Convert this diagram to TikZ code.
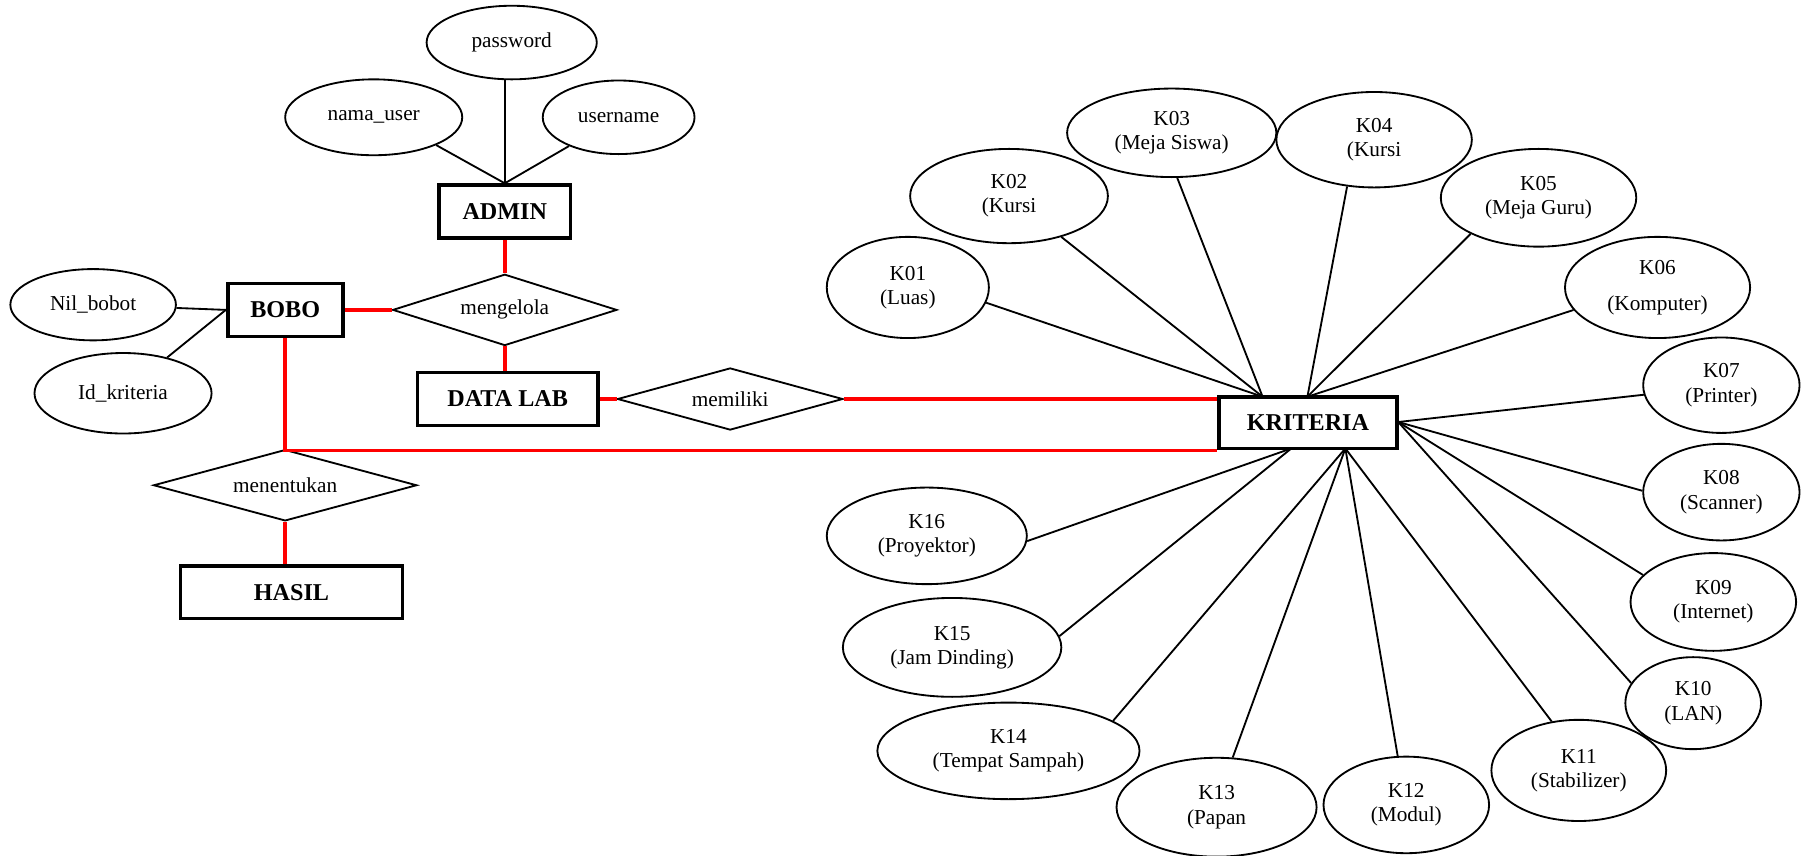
\documentclass[tikz,border=0pt]{standalone}
\usepackage{fontspec}
\setmainfont{Liberation Serif}
\usetikzlibrary{shapes.geometric}
\begin{document}
\begin{tikzpicture}[x=0.5pt,y=-0.5pt,
  attr/.style 2 args={draw, ellipse, line width=0.8pt, inner sep=0pt, align=center,
    font=\fontsize{9.25}{10.5}\selectfont, minimum width=#1pt, minimum height=#2pt},
  ent/.style={draw, rectangle, line width=1.6pt, inner sep=0pt,
    font=\fontsize{10.5}{12}\selectfont\bfseries, minimum width=#1pt, minimum height=23pt},
  rel/.style 2 args={draw, diamond, aspect=3, line width=0.8pt, inner sep=0pt,
    font=\fontsize{9.25}{10.5}\selectfont, minimum width=#1pt, minimum height=#2pt},
  rl/.style={draw=red, line width=1.5pt},
  bl/.style={draw, line width=0.8pt}]
\useasboundingbox (0,0) rectangle (1568,744);

% entities
\node[ent=57] (admin) at (439,184) {ADMIN};
\node[ent=50] (bobo) at (248,269.5) {BOBO};
\node[ent=78.5] (datalab) at (441.5,347) {DATA LAB};
\node[ent=77.5, minimum height=22.5pt] (kriteria) at (1137.5,367.5) {KRITERIA};
\node[ent=96.5] (hasil) at (253.5,515) {HASIL};

% relationships
\node[rel={97.5}{31}] (mengelola) at (439,269.5) {mengelola};
\node[rel={98}{27}] (memiliki) at (635,347) {memiliki};
\node[rel={114.5}{31}] (menentukan) at (248,422) {menentukan};

% admin / bobo attributes
\node[attr={77}{33}] (namauser) at (325,102) {nama\_user};
\node[attr={74}{32}] (password) at (445,37) {password};
\node[attr={66}{32}] (username) at (538,102) {username};
\node[attr={72}{31}] (nilbobot) at (81,265) {Nil\_bobot};
\node[attr={77}{35}] (idkriteria) at (107,342) {Id\_kriteria};

% kriteria attributes
\node[attr={70.5}{44}] (k01) at (789.5,250) {K01\\(Luas)};
\node[attr={86}{41}] (k02) at (877.5,170.5) {K02\\(Kursi};
\node[attr={91}{38.5}] (k03) at (1019,115.5) {K03\\(Meja Siswa)};
\node[attr={85}{41.5}] (k04) at (1195,121.5) {K04\\(Kursi};
\node[attr={85}{42.5}] (k05) at (1338,172) {K05\\(Meja Guru)};
\node[attr={80.5}{44}] (k06) at (1441.5,250) {K06\\[5pt](Komputer)};
\node[attr={68}{41.5}] (k07) at (1497,335) {K07\\(Printer)};
\node[attr={68}{42}] (k08) at (1497,428) {K08\\(Scanner)};
\node[attr={72}{42.5}] (k09) at (1490,523.5) {K09\\(Internet)};
\node[attr={59}{40}] (k10) at (1472.5,611.5) {K10\\(LAN)};
\node[attr={76}{44}] (k11) at (1373,670) {K11\\(Stabilizer)};
\node[attr={72}{42}] (k12) at (1223,700) {K12\\(Modul)};
\node[attr={87}{43}] (k13) at (1058,702) {K13\\(Papan};
\node[attr={114}{42}] (k14) at (877,653) {K14\\(Tempat Sampah)};
\node[attr={95}{43}] (k15) at (828,563) {K15\\(Jam Dinding)};
\node[attr={87}{42}] (k16) at (806,466) {K16\\(Proyektor)};

% anchor points on KRITERIA
\coordinate (kt1) at (1098,345);
\coordinate (kt2) at (1137,345);
\coordinate (kr) at (1216,367);
\coordinate (kb1) at (1123,390);
\coordinate (kb2) at (1170,390);

% black attribute connectors
\draw[bl] (namauser.-24) -- (admin.north);
\draw[bl] (admin.north) -- (admin.north |- password.south);
\draw[bl] (username) -- (admin.north);
\draw[bl] (nilbobot) -- (bobo.west);
\draw[bl] (idkriteria) -- (bobo.west);

\draw[bl] (k01.-11) -- (kt1);
\draw[bl] (k02.-38) -- (kt1);
\draw[bl] (k03.-83) -- (kt1);
\draw[bl] (k04.-120) -- (kt2);
\draw[bl] (k05.-152) -- (kt2);
\draw[bl] (k06.-165) -- (kt2);
\draw[bl] (k07.-173) -- (kr);
\draw[bl] (k08.179) -- (kr);
\draw[bl] (k09.159) -- (kr);
\draw[bl] (k10.162) -- (kr);
\draw[bl] (k11.119) -- (kb2);
\draw[bl] (k12.100) -- (kb2);
\draw[bl] (k13.72) -- (kb2);
\draw[bl] (k14.16) -- (kb2);
\draw[bl] (k15.6) -- (kb1);
\draw[bl] (k16.-3) -- (kb1);

% red relationship connectors
\draw[rl] (admin.south) -- (mengelola.north);
\draw[rl] (bobo.east) -- (mengelola.west);
\draw[rl] (mengelola.south) -- (mengelola.south |- datalab.north);
\draw[rl] (datalab.east) -- (memiliki.west);
\draw[rl] (memiliki.east) -- (memiliki.east -| kriteria.west);
\draw[rl] (bobo.south) -- (bobo.south |- kriteria.south west) -- (kriteria.south west);
\draw[rl] (menentukan.south) -- (menentukan.south |- hasil.north);
\end{tikzpicture}
\end{document}
